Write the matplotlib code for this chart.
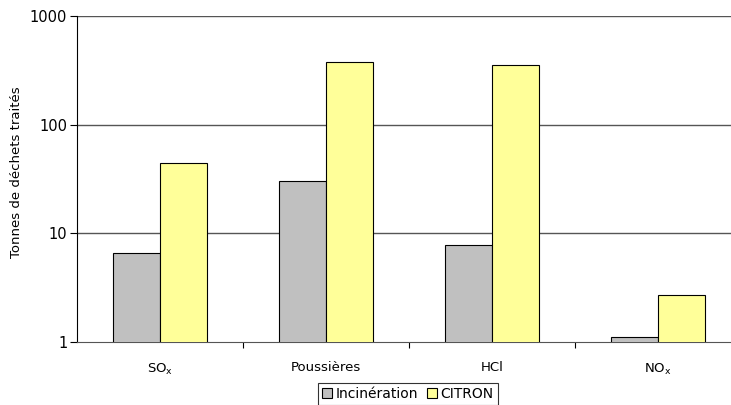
import matplotlib
matplotlib.use('Agg')
from matplotlib import pyplot as plt
from matplotlib import ticker
import numpy as np

# valeurs (échelle log)
categories = ['SO$_\\mathregular{x}$', 'Poussières', 'HCl', 'NO$_\\mathregular{x}$']
incineration = [6.6, 30.3, 7.8, 1.11]
citron = [44.4, 377, 353, 2.71]
series_names = ['Incinération', 'CITRON']

plt.rcParams['font.family'] = ['DejaVu Sans']
plt.rcParams['mathtext.default'] = 'regular'

fig = plt.figure(figsize=(7.31, 4.05), dpi=100)
ax = fig.add_axes([77/731, 1 - 342/405, 664/731, 326/405])

x = np.arange(len(categories))
w = 0.283
ax.bar(x - w/2, incineration, w, color='#C0C0C0', edgecolor='black', linewidth=0.8,
       label=series_names[0], zorder=3)
ax.bar(x + w/2, citron, w, color='#FFFF99', edgecolor='black', linewidth=0.8,
       label=series_names[1], zorder=3)

ax.set_yscale('log')
ax.set_ylim(1, 1000)
ax.set_xlim(-0.5, len(categories) - 0.5)
ax.yaxis.set_major_locator(ticker.FixedLocator([1, 10, 100, 1000]))
ax.yaxis.set_major_formatter(ticker.FixedFormatter(['1', '10', '100', '1000']))
ax.yaxis.set_minor_locator(ticker.NullLocator())
for v in [10, 100, 1000]:
    ax.axhline(v, color='#555555', linewidth=1, zorder=1)

ax.set_xticks(np.arange(len(categories) - 1) + 0.5)
ax.set_xticklabels([])
ax.set_xticks(x, minor=True)
ax.set_xticklabels(categories, minor=True, fontsize=9.5)
ax.tick_params(axis='x', which='minor', length=0, pad=14)
ax.tick_params(axis='x', which='major', length=4, color='black', direction='out')
ax.tick_params(axis='y', length=5, labelsize=10.5, pad=2)

for s in ['top', 'right']:
    ax.spines[s].set_visible(False)
ax.spines['bottom'].set_color('#555555')
ax.spines['left'].set_color('black')

ax.set_ylabel('Tonnes de déchets traités', fontsize=9.5, labelpad=6)
ax.yaxis.set_label_coords(-54/664, 0.52)

leg = ax.legend(loc='upper center', bbox_to_anchor=((408 - 77) / 664, -0.125), ncol=2,
                frameon=True, fancybox=False, edgecolor='black', fontsize=10,
                handlelength=0.7, handleheight=0.7, handletextpad=0.3,
                columnspacing=0.6, borderpad=0.3, borderaxespad=0)
leg.get_frame().set_linewidth(0.8)

fig.savefig('out.png', dpi=100)
